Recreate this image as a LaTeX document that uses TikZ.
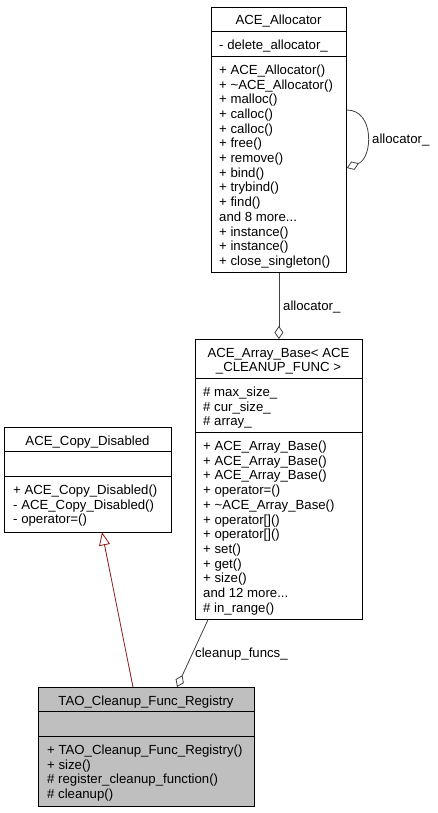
\documentclass[tikz,border=0pt]{standalone}
\usepackage{fontspec}
\setmainfont{Liberation Sans}
\usetikzlibrary{arrows.meta,calc}
\definecolor{edgegray}{HTML}{404040}
\definecolor{inhred}{HTML}{8B1A1A}
\definecolor{boxgray}{HTML}{BFBFBF}
\newcommand\threedots{...}
\newcommand\memberlist[4]{%
  \foreach \t [count=\i] in {#4} {%
    \node[txt] (#3\i) at ({#1},{#2+14.7*(\i-1)}) {\t};%
  }%
}
\begin{document}
\begin{tikzpicture}[x=1pt,y=-1pt,
  classbox/.style={draw=black, line width=0.8pt, fill=white, inner sep=0pt, anchor=north west},
  txt/.style={font=\fontsize{13.2}{14.7}\selectfont, inner sep=0pt, anchor=base west},
  ttl/.style={font=\fontsize{13.2}{14.7}\selectfont, inner sep=0pt, anchor=base},
  sep/.style={draw=black, line width=0.8pt},
  conn/.style={draw=edgegray, line width=0.8pt},
  agg/.style={conn, -{Diamond[open, length=13pt, width=9pt]}},
  inh/.style={draw=inhred, line width=0.8pt, -{Triangle[open, length=13pt, width=11pt, fill=white]}},
  lbl/.style={font=\fontsize{13.2}{14.7}\selectfont, inner sep=0pt, anchor=base west}
]
\useasboundingbox (0,0) rectangle (437,813);

% ACE_Allocator
\node[classbox, minimum width=135pt, minimum height=265.2pt] (alloc) at (211,7) {};
\draw[sep] (211,31.7) -- (346,31.7);
\draw[sep] (211,56.4) -- (346,56.4);
\node[ttl] (allocT) at (278.5,25) {ACE\_Allocator};
\node[txt] (allocA) at (219,49.7) {- delete\_allocator\_};
\memberlist{219}{74.4}{allocM}{+ ACE\_Allocator(),+ \textasciitilde ACE\_Allocator(),+ malloc(),+ calloc(),+ calloc(),+ free(),+ remove(),+ bind(),+ trybind(),+ find(),and 8 more\threedots,+ instance(),+ instance(),+ close\_singleton()}

% ACE_Array_Base
\node[classbox, minimum width=167pt, minimum height=279.9pt] (arr) at (195,339) {};
\draw[sep] (195,378.4) -- (362,378.4);
\draw[sep] (195,432.5) -- (362,432.5);
\node[ttl] (arrT1) at (278.5,357) {ACE\_Array\_Base< ACE};
\node[ttl] (arrT2) at (278.5,371.7) {\_CLEANUP\_FUNC >};
\memberlist{203}{396.4}{arrA}{\# max\_size\_,\# cur\_size\_,\# array\_}
\memberlist{203}{450.5}{arrM}{+ ACE\_Array\_Base(),+ ACE\_Array\_Base(),+ ACE\_Array\_Base(),+ operator=(),+ \textasciitilde ACE\_Array\_Base(),+ operator[](),+ operator[](),+ set(),+ get(),+ size(),and 12 more\threedots,\# in\_range()}

% ACE_Copy_Disabled
\node[classbox, minimum width=167pt, minimum height=104.5pt] (copy) at (4,427) {};
\draw[sep] (4,451.7) -- (171,451.7);
\draw[sep] (4,476.4) -- (171,476.4);
\node[ttl] (copyT) at (87.5,445) {ACE\_Copy\_Disabled};
\memberlist{13}{494.4}{copyM}{+ ACE\_Copy\_Disabled(),- ACE\_Copy\_Disabled(),- operator=()}

% TAO_Cleanup_Func_Registry
\node[classbox, fill=boxgray, minimum width=216pt, minimum height=118.8pt] (tao) at (38,687) {};
\draw[sep] (38,711.7) -- (254,711.7);
\draw[sep] (38,736.4) -- (254,736.4);
\node[ttl] (taoT) at (146,705) {TAO\_Cleanup\_Func\_Registry};
\memberlist{47}{754.4}{taoM}{+ TAO\_Cleanup\_Func\_Registry(),+ size(),\# register\_cleanup\_function(),\# cleanup()}

% connectors
\draw[agg] (alloc.south) -- (arr.north);
\node[lbl] (lblAlloc) at (283,310) {allocator\_};

\coordinate (loopS) at ($(alloc.north east)+(0,103)$);
\coordinate (loopE) at ($(alloc.north east)+(0,161)$);
\draw[agg] (loopS) .. controls ($(loopS)+(28,0)$) and ($(loopE)+(26,-10)$) .. (loopE);
\node[lbl] (lblSelf) at (372,144) {allocator\_};

\coordinate (inhS) at ($(tao.north west)+(95,0)$);
\coordinate (inhE) at ($(copy.south west)+(98,0)$);
\draw[inh] (inhS) -- (inhE);

\coordinate (cfS) at ($(arr.south west)+(13,0)$);
\coordinate (cfE) at ($(tao.north west)+(139,0)$);
\draw[agg] (cfS) -- (cfE);
\node[lbl] (lblCF) at (195,657) {cleanup\_funcs\_};
\end{tikzpicture}
\end{document}
